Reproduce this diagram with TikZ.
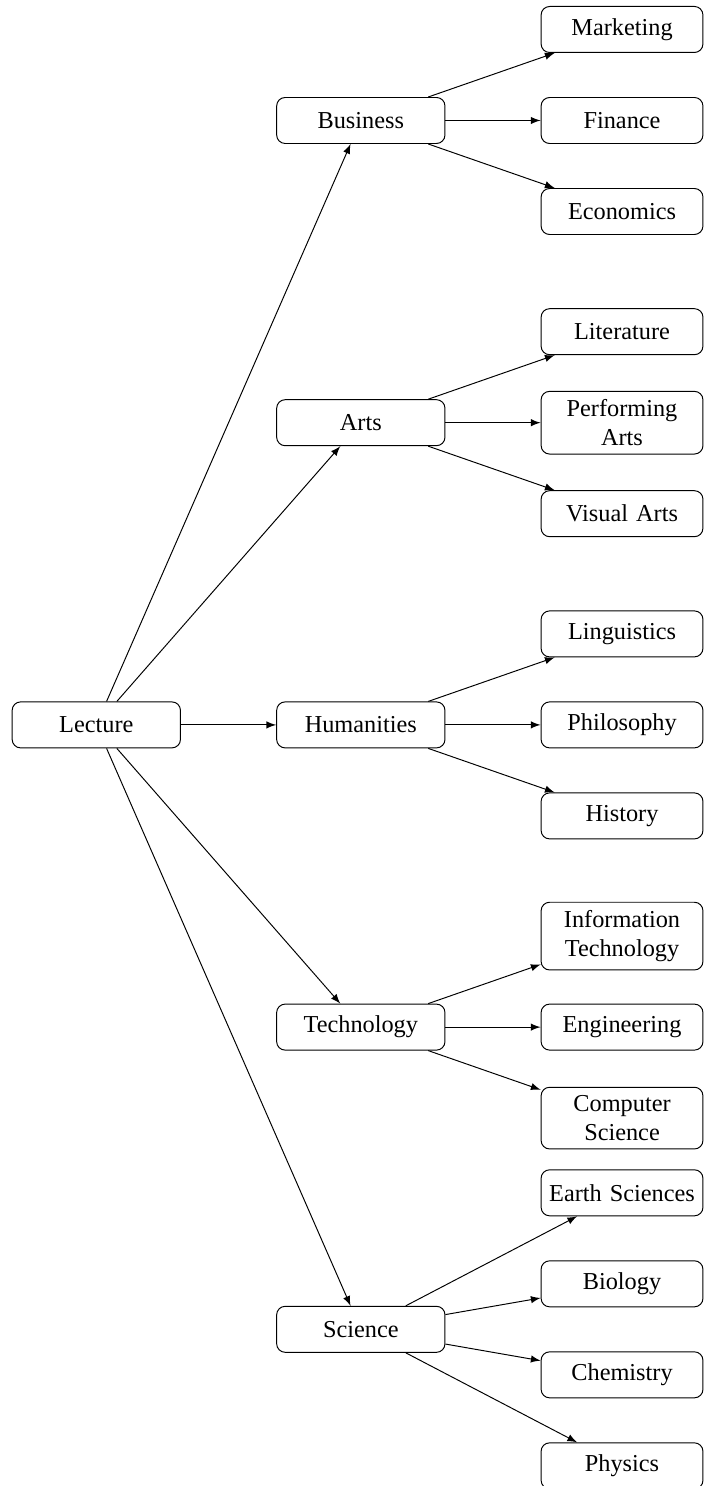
\documentclass[tikz,border=0pt]{standalone}
\usepackage{fontspec}
\setmainfont{Liberation Serif}
\usetikzlibrary{positioning}

\begin{document}
\begin{tikzpicture}[node distance = {37.45pt}, on grid,
	main/.style = {draw, rounded corners=3.5pt, text width=2.2cm, align=center, minimum height=18.93pt},
	leaf/.style = {main, inner xsep=2pt}]
	\useasboundingbox (-39.63pt,-313.2pt) rectangle (250.07pt,298.3pt);
	\node[main] (lec) {Lecture};
	\node[main] (hum) [right=108.85pt of lec] {Humanities};
	\node[main] (arts) [above=124.36pt of hum] {Arts};
	\node[main] (bus) [above=124.36pt of arts] {Business};
	\node[main] (tech) [below=124.36pt of hum] {Technology};
	\node[main] (sci) [below=124.36pt of tech] {Science};
	\node[leaf] (fin) [right=107.49pt of bus] {Finance};
	\node[leaf] (mkt) [above=of fin] {Marketing};
	\node[leaf] (eco) [below=of fin] {Economics};
	\node[leaf] (perf) [right=107.49pt of arts] {Performing Arts};
	\node[leaf] (lit) [above=of perf] {Literature};
	\node[leaf] (vis) [below=of perf] {Visual Arts};
	\node[leaf] (phil) [right=107.49pt of hum] {Philosophy};
	\node[leaf] (ling) [above=of phil] {Linguistics};
	\node[leaf] (hist) [below=of phil] {History};
	\node[leaf] (eng) [right=107.49pt of tech] {Engineering};
	\node[leaf] (it) [above=of eng] {Information Technology};
	\node[leaf] (cs) [below=of eng] {Computer Science};
	\node[leaf] (bio) [above right=18.72pt and 107.49pt of sci] {Biology};
	\node[leaf] (earth) [above=of bio] {Earth Sciences};
	\node[leaf] (chem) [below=of bio] {Chemistry};
	\node[leaf] (phys) [below=of chem] {Physics};
	\draw[-latex] (lec) -- (bus);
	\draw[-latex] (lec) -- (arts);
	\draw[-latex] (lec) -- (hum);
	\draw[-latex] (lec) -- (tech);
	\draw[-latex] (lec) -- (sci);
	\draw[-latex] (bus) -- (mkt);
	\draw[-latex] (bus) -- (fin);
	\draw[-latex] (bus) -- (eco);
	\draw[-latex] (arts) -- (lit);
	\draw[-latex] (arts) -- (perf);
	\draw[-latex] (arts) -- (vis);
	\draw[-latex] (hum) -- (ling);
	\draw[-latex] (hum) -- (phil);
	\draw[-latex] (hum) -- (hist);
	\draw[-latex] (tech) -- (it);
	\draw[-latex] (tech) -- (eng);
	\draw[-latex] (tech) -- (cs);
	\draw[-latex] (sci) -- (earth);
	\draw[-latex] (sci) -- (bio);
	\draw[-latex] (sci) -- (chem);
	\draw[-latex] (sci) -- (phys);
\end{tikzpicture}
\end{document}
